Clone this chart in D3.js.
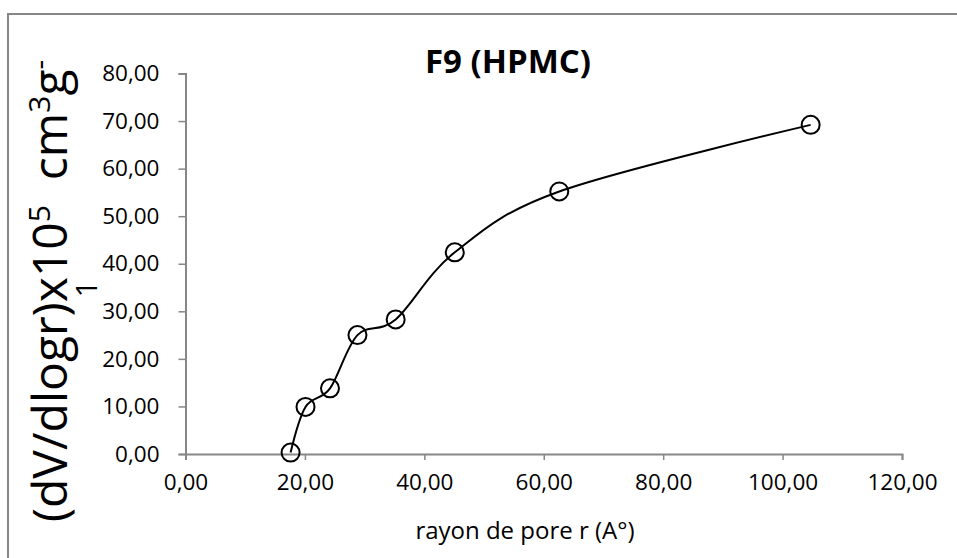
<!DOCTYPE html>
<html><head><meta charset="utf-8">
<script src="https://cdn.jsdelivr.net/npm/d3@7"></script>
<style>html,body{margin:0;padding:0;background:#fff;}svg{display:block;}</style>
</head><body>
<svg id="c" width="957" height="558"></svg>
<script>
const title = "F9 (HPMC)";
const xTitle = "rayon de pore r (A°)";
const radius = [17.6, 20.1, 24.2, 28.8, 35.2, 45.1, 62.6, 104.7];
const dvdlogr = [0.3, 9.9, 13.8, 25.0, 28.3, 42.4, 55.2, 69.2];
const xTicks = [0, 20, 40, 60, 80, 100, 120];
const yTicks = [0, 10, 20, 30, 40, 50, 60, 70, 80];

const svg = d3.select("#c");
const font = "'Open Sans', sans-serif";
const fmt = d => d.toFixed(2).replace(".", ",");

svg.append("rect").attr("x", 8).attr("y", 14).attr("width", 970).attr("height", 570)
  .attr("fill", "#fff").attr("stroke", "#878787").attr("stroke-width", 2);

const x = d3.scaleLinear().domain([0, 120]).range([185.5, 902]);
const y = d3.scaleLinear().domain([0, 80]).range([454, 73.5]);

const xAxis = svg.append("g").attr("transform", `translate(0,${y(0)})`)
  .call(d3.axisBottom(x).tickValues(xTicks).tickFormat(fmt).tickSize(6).tickPadding(10));
const yAxis = svg.append("g").attr("transform", `translate(${x(0)},0)`)
  .call(d3.axisLeft(y).tickValues(yTicks).tickFormat(fmt).tickSize(7).tickPadding(19));
[xAxis, yAxis].forEach(a => {
  a.select(".domain").attr("stroke", "#878787").attr("stroke-width", 2);
  a.selectAll(".tick line").attr("stroke", "#878787").attr("stroke-width", 1.5);
  a.selectAll(".tick text").attr("font-family", font).attr("font-size", 22.5).attr("fill", "#000");
});
xAxis.selectAll(".tick text").attr("dy", "0.9em");

const pts = radius.map((r, i) => [r, dvdlogr[i]]);
const line = d3.line().x(d => x(d[0])).y(d => y(d[1])).curve(d3.curveCardinal.tension(0));
svg.append("path").attr("d", line(pts)).attr("fill", "none").attr("stroke", "#000").attr("stroke-width", 2);
svg.selectAll("circle.pt").data(pts).join("circle").attr("class", "pt")
  .attr("cx", d => x(d[0])).attr("cy", d => y(d[1])).attr("r", 9)
  .attr("fill", "none").attr("stroke", "#000").attr("stroke-width", 2);

svg.append("text").attr("x", 508).attr("y", 73).attr("text-anchor", "middle")
  .attr("font-family", font).attr("font-weight", "bold").attr("font-size", 33).text(title);

svg.append("text").attr("x", 525).attr("y", 539).attr("text-anchor", "middle")
  .attr("font-family", font).attr("font-size", 24).text(xTitle);

const yt = svg.append("text").attr("transform", "translate(67,291) rotate(-90)")
  .attr("text-anchor", "middle").attr("font-family", font).attr("font-size", 48);
yt.append("tspan").text("(dV/dlogr)x10");
yt.append("tspan").attr("dy", -17).attr("font-size", 30).text("5");
yt.append("tspan").attr("dy", 17).text("\u00a0\u00a0cm");
yt.append("tspan").attr("dy", -17).attr("font-size", 30).text("3");
yt.append("tspan").attr("dy", 17).text("g");
yt.append("tspan").attr("dy", -17).attr("font-size", 30).text("-");
svg.append("text").attr("transform", "translate(97,289) rotate(-90)")
  .attr("text-anchor", "middle").attr("font-family", font).attr("font-size", 30).text("1");
</script>
</body></html>
